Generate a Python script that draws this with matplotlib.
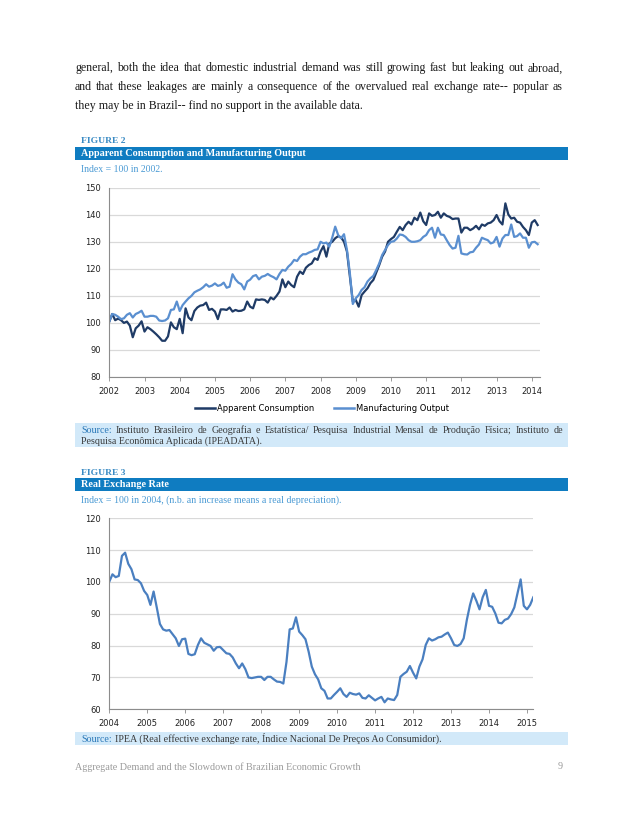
import matplotlib
matplotlib.use("Agg")
import matplotlib.pyplot as plt
from matplotlib.patches import Rectangle
from matplotlib.lines import Line2D
import numpy as np

# Figure 2: monthly index, Jan 2002 - Mar 2014 (2002 = 100)
years_fig2 = [str(y) for y in range(2002, 2015)]
apparent_consumption = [
    100.5, 103.3, 101.0, 101.6, 101.0, 100.0, 100.5, 99.0, 94.7, 98.0, 99.0, 100.6,
    96.8, 98.4, 97.7, 96.8, 95.8, 94.7, 93.4, 93.4, 95.0, 100.2, 98.4, 97.7,
    101.5, 96.2, 105.4, 102.0, 101.0, 104.4, 105.7, 106.4, 106.6, 107.5, 104.8, 105.2,
    104.2, 101.4, 105.0, 105.0, 104.8, 105.7, 104.2, 104.8, 104.4, 104.5, 105.0, 107.9,
    106.0, 105.4, 108.7, 108.5, 108.7, 108.5, 107.5, 109.4, 108.7, 110.0, 111.6, 116.1,
    113.2, 115.3, 114.0, 113.2, 117.1, 119.0, 118.1, 120.4, 121.4, 122.0, 123.9, 123.3,
    126.4, 128.4, 124.5, 129.4, 130.0, 131.3, 132.1, 131.6, 130.0, 126.4, 117.1, 107.9,
    108.5, 106.0, 110.3, 111.6, 112.8, 114.7, 115.9, 118.6, 121.4, 124.5, 126.4, 130.0,
    131.0, 131.8, 133.7, 135.5, 134.3, 136.2, 137.4, 136.4, 138.9, 138.0, 140.8, 137.6,
    136.2, 140.5, 139.6, 139.9, 141.1, 138.9, 140.5, 139.6, 139.2, 138.4, 138.6, 138.6,
    133.4, 135.2, 135.2, 134.3, 134.9, 135.9, 134.6, 136.4, 135.9, 136.8, 137.1, 138.0,
    139.9, 137.6, 136.4, 144.2, 140.1, 138.6, 138.9, 137.4, 137.1, 135.5, 134.3, 132.5,
    137.1, 138.0, 136.2,
]
manufacturing_output = [
    100.5, 103.3, 103.0, 102.3, 101.4, 101.7, 103.0, 103.6, 102.0, 103.3, 103.8, 104.5,
    102.3, 102.3, 102.6, 102.6, 102.3, 100.9, 100.7, 100.9, 101.7, 104.8, 105.0, 107.9,
    104.4, 106.6, 107.9, 109.1, 110.0, 111.3, 111.9, 112.4, 113.2, 114.3, 113.4, 113.8,
    114.6, 113.7, 114.0, 114.9, 113.0, 113.4, 118.0, 116.1, 114.9, 114.3, 112.4, 115.3,
    116.0, 117.3, 117.7, 116.1, 117.1, 117.4, 118.1, 117.4, 116.9, 116.1, 118.1, 119.6,
    119.3, 120.8, 121.8, 123.3, 122.9, 124.5, 125.4, 125.4, 126.0, 126.4, 127.0, 127.2,
    130.0, 129.4, 129.7, 128.2, 131.6, 135.6, 132.5, 131.3, 132.8, 127.0, 118.3, 107.0,
    109.1, 110.3, 112.2, 113.2, 115.3, 116.5, 117.4, 119.6, 122.0, 125.1, 127.0, 128.8,
    130.0, 130.2, 131.2, 132.7, 132.5, 131.8, 130.6, 130.0, 130.0, 130.2, 130.6, 131.8,
    132.5, 134.3, 135.2, 131.5, 135.2, 132.7, 132.5, 130.6, 128.8, 127.5, 127.8, 132.2,
    125.7, 125.4, 125.3, 126.1, 126.3, 127.8, 129.0, 131.5, 131.0, 130.6, 129.4, 129.8,
    131.8, 128.2, 131.2, 132.5, 132.5, 136.4, 131.8, 132.1, 133.1, 131.5, 131.5, 127.8,
    129.8, 130.0, 129.1,
]

# Figure 3: monthly real exchange rate, Jan 2004 - Mar 2015 (2004 = 100)
years_fig3 = [str(y) for y in range(2004, 2016)]
real_exchange_rate = [
    100.1, 102.4, 101.5, 101.9, 108.2, 109.2, 105.7, 104.0, 100.8, 100.6, 99.6, 97.2,
    95.9, 92.8, 97.0, 92.0, 86.8, 85.1, 84.7, 84.9, 83.6, 82.3, 79.9, 82.0,
    82.2, 77.4, 77.0, 77.3, 80.2, 82.3, 80.9, 80.4, 79.9, 78.4, 79.5, 79.6,
    78.6, 77.6, 77.4, 76.3, 74.4, 72.9, 74.4, 72.6, 70.0, 69.8, 70.0, 70.2,
    70.2, 69.2, 70.2, 70.2, 69.4, 68.7, 68.6, 68.1, 74.9, 85.1, 85.4, 88.9,
    84.4, 83.3, 82.0, 78.1, 73.4, 71.0, 69.4, 66.6, 65.8, 63.4, 63.4, 64.5,
    65.5, 66.6, 64.8, 63.9, 65.2, 64.8, 64.6, 65.0, 63.6, 63.4, 64.4, 63.6,
    62.8, 63.4, 63.9, 62.2, 63.4, 63.1, 62.9, 64.5, 70.2, 71.1, 71.8, 73.6,
    71.5, 69.7, 73.4, 75.7, 80.2, 82.3, 81.6, 82.0, 82.6, 82.8, 83.5, 84.1,
    82.3, 80.2, 79.9, 80.5, 82.3, 88.1, 92.8, 96.4, 94.1, 91.4, 95.2, 97.5,
    92.5, 92.2, 90.1, 87.2, 87.0, 88.1, 88.5, 89.9, 92.0, 96.4, 100.8, 92.5,
    91.4, 92.8, 95.2,
]

W, H = 638, 826
SERIF = "Liberation Serif"
plt.rcParams["font.family"] = "DejaVu Sans"

DARK = "#1f3b66"
LIGHT = "#5a8fd0"
LINE3 = "#4a7fc0"
BAR = "#0f7cc1"
PALE = "#d2e9f9"
TITLE_BLUE = "#3a8bc4"


def fx(px):
    return px / W


def fy(py):
    return 1 - py / H


def rect(fig, x0, y0, x1, y1, color):
    fig.add_artist(Rectangle((fx(x0), fy(y1)), (x1 - x0) / W, (y1 - y0) / H,
                             transform=fig.transFigure, color=color, lw=0, zorder=0))


def justify(fig, line, y, x0, x1, color, first_color=None, fontsize=8, **kw):
    # y is the visual centre of the line; place words on a common baseline
    r = fig.canvas.get_renderer()
    base = y + 0.28 * fontsize * 100 / 72
    words = line.split()
    texts, widths = [], []
    for i, w in enumerate(words):
        c = first_color if (i == 0 and first_color) else color
        t = fig.text(0, fy(base), w, color=c, va="baseline", fontsize=fontsize, **kw)
        widths.append(t.get_window_extent(renderer=r).width)
        texts.append(t)
    gap = (x1 - x0 - sum(widths)) / (len(words) - 1)
    x = x0
    for t, w in zip(texts, widths):
        t.set_x(fx(x))
        x += w + gap


def style_axes(ax, ylim, yticks, nmonths, labels):
    ax.set_ylim(*ylim)
    ax.set_yticks(yticks)
    ax.set_xlim(0, nmonths)
    ax.set_xticks(np.arange(len(labels)) * 12)
    ax.set_xticklabels(labels)
    ax.grid(axis="y", color="#d9d9d9", lw=0.9)
    ax.set_axisbelow(True)
    for s in ["top", "right"]:
        ax.spines[s].set_visible(False)
    for s in ["left", "bottom"]:
        ax.spines[s].set_color("#8c8c8c")
        ax.spines[s].set_linewidth(0.8)
    ax.tick_params(axis="y", length=0, pad=6, labelsize=6, labelcolor="#222222")
    ax.tick_params(axis="x", length=3, width=0.6, color="#8c8c8c", pad=4,
                   labelsize=6, labelcolor="#222222")


fig = plt.figure(figsize=(W / 100, H / 100), dpi=100)
fig.canvas.draw()

# body paragraph
BODY = 8.6
justify(fig, "general, both the idea that domestic industrial demand was still growing fast but leaking out abroad,",
        68, 75, 563, "#1a1a1a", family=SERIF, fontsize=BODY)
justify(fig, "and that these leakages are mainly a consequence of the overvalued real exchange rate-- popular as",
        87, 75, 563, "#1a1a1a", family=SERIF, fontsize=BODY)
fig.text(fx(75), fy(106 + 0.28 * BODY * 100 / 72),
         "they may be in Brazil-- find no support in the available data.",
         color="#1a1a1a", va="baseline", family=SERIF, fontsize=BODY)

# ---- Figure 2 header
fig.text(fx(81), fy(141), "FIGURE 2", family=SERIF, fontsize=6.8, weight="bold",
         color=TITLE_BLUE, va="center")
rect(fig, 75, 147.3, 568, 160, BAR)
fig.text(fx(81), fy(153.7), "Apparent Consumption and Manufacturing Output", family=SERIF,
         fontsize=7.3, weight="bold", color="white", va="center")
fig.text(fx(81), fy(169.3), "Index = 100 in 2002.", family=SERIF, fontsize=7.0,
         color="#4a9ad4", va="center")

ax1 = fig.add_axes([fx(109.3), fy(377), (540 - 109.3) / W, (377 - 187.7) / H])
m1 = np.arange(len(apparent_consumption))
ax1.plot(m1, apparent_consumption, color=DARK, lw=1.6, solid_joinstyle="round")
ax1.plot(m1, manufacturing_output, color=LIGHT, lw=1.6, solid_joinstyle="round")
style_axes(ax1, (80, 150), range(80, 151, 10), 146.8, years_fig2)

handles = [Line2D([], [], color=DARK, lw=1.8), Line2D([], [], color=LIGHT, lw=1.8)]
fig.legend(handles, ["Apparent Consumption", "Manufacturing Output"], loc="center",
           bbox_to_anchor=(fx(322), fy(408.3)), ncol=2, frameon=False, fontsize=6,
           handlelength=2.4, handletextpad=0.3, columnspacing=2.3)

rect(fig, 75, 422.7, 568, 447, PALE)
justify(fig, "Source: Instituto Brasileiro de Geografia e Estatística/ Pesquisa Industrial Mensal de Produção Física; Instituto de",
        430, 81, 563, "#3a3a3a", first_color="#2a78b8", family=SERIF, fontsize=7.2)
fig.text(fx(81), fy(440.7 + 0.28 * 7.2 * 100 / 72), "Pesquisa Econômica Aplicada (IPEADATA).",
         family=SERIF, fontsize=7.2, color="#3a3a3a", va="baseline")

# ---- Figure 3 header
fig.text(fx(81), fy(472.7), "FIGURE 3", family=SERIF, fontsize=6.8, weight="bold",
         color=TITLE_BLUE, va="center")
rect(fig, 75, 478.3, 568, 490.7, BAR)
fig.text(fx(81), fy(484.8), "Real Exchange Rate", family=SERIF, fontsize=7.3,
         weight="bold", color="white", va="center")
fig.text(fx(81), fy(500), "Index = 100 in 2004, (n.b. an increase means a real depreciation).",
         family=SERIF, fontsize=7.1, color="#4a9ad4", va="center")

ax2 = fig.add_axes([fx(109.3), fy(709.3), (533.3 - 109.3) / W, (709.3 - 518.3) / H])
m2 = np.arange(len(real_exchange_rate))
ax2.plot(m2, real_exchange_rate, color=LINE3, lw=1.6, solid_joinstyle="round")
style_axes(ax2, (60, 120), range(60, 121, 10), 134, years_fig3)

rect(fig, 75, 732.3, 568, 745, PALE)
src_base = fy(739.3 + 0.28 * 7.2 * 100 / 72)
t = fig.text(fx(81), src_base, "Source:", family=SERIF, fontsize=7.2, color="#2a78b8",
             va="baseline")
wsrc = t.get_window_extent(renderer=fig.canvas.get_renderer()).width
fig.text(fx(81 + wsrc + 3), src_base,
         "IPEA (Real effective exchange rate, Índice Nacional De Preços Ao Consumidor).",
         family=SERIF, fontsize=7.2, color="#3a3a3a", va="baseline")

# footer
fig.text(fx(75), fy(766.7), "Aggregate Demand and the Slowdown of Brazilian Economic Growth",
         family=SERIF, fontsize=7.3, color="#9a9a9a", va="center")
fig.text(fx(563), fy(766.7), "9", family=SERIF, fontsize=7.3, color="#9a9a9a",
         va="center", ha="right")

fig.savefig("out.png", dpi=100, facecolor="white")
